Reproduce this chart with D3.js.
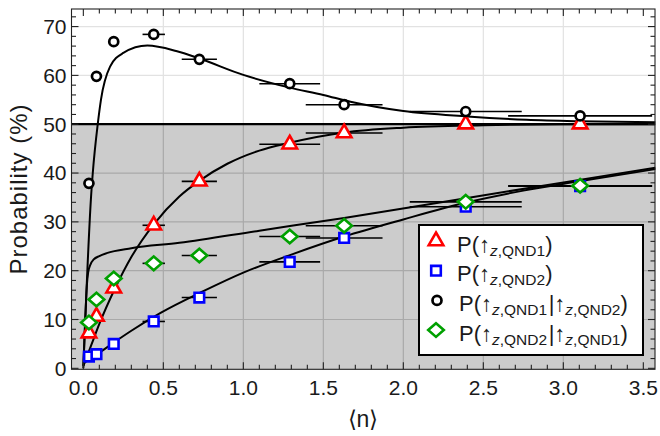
<!DOCTYPE html>
<meta charset="utf-8">
<style>
body { margin: 0; background: #fff; }
text { font-family: "Liberation Sans", Arial, sans-serif; fill: #1a1a1a; }
</style>
<body>
<script src="https://d3js.org/d3.v7.min.js"></script>
<script>

// measured points (same <n> for every series)
var nMean = [0.035, 0.082, 0.19, 0.44, 0.725, 1.29, 1.63, 2.39, 3.105];
var nErr  = [0, 0, 0, 0.07, 0.11, 0.19, 0.24, 0.35, 0.45];
var pQnd1       = [7.2, 10.6, 16.4, 29.3, 38.3, 45.9, 48.2, 50.0, 50.0];
var pQnd2       = [2.4, 2.9, 5.0, 9.6, 14.5, 21.8, 26.7, 33.1, 37.3];
var pQnd1Given2 = [37.9, 59.8, 66.9, 68.4, 63.3, 58.3, 54.0, 52.6, 51.7];
var pQnd2Given1 = [9.4, 14.1, 18.4, 21.5, 23.1, 27.0, 29.2, 34.1, 37.4];

// model curves as [n, P]
var fitQnd1 = [[0,0.5],[0.05,4.8],[0.1,9.1],[0.2,16.5],[0.3,22.8],[0.44,29.5],[0.6,35.2],[0.72,38.3],[0.9,41.9],[1.1,44.6],[1.29,46.2],[1.63,48.3],[2,49.3],[2.5,49.8],[3,50],[3.575,50]];
var fitQnd2 = [[0,1.0],[0.1,3.2],[0.2,5.5],[0.3,7.7],[0.48,11.3],[0.75,15.8],[1.0,19.6],[1.3,23.3],[1.63,27.0],[2.0,30.5],[2.4,34.0],[2.75,36.4],[3.1,38.3],[3.575,40.8]];
var fitQnd1Given2 = [[0,0],[0.01,8.5],[0.025,20],[0.047,34.5],[0.059,40],[0.09,50],[0.11,55],[0.167,61.8],[0.25,64.6],[0.4,66.1],[0.58,65.0],[0.73,63.4],[1.0,60.1],[1.29,57.5],[1.5,56],[1.67,54.6],[2.0,52.7],[2.4,51.6],[2.77,50.9],[3.1,50.6],[3.575,50.4]];
var fitQnd2Given1 = [[0,0.5],[0.012,10],[0.022,17],[0.03,19.6],[0.045,21.3],[0.065,22.3],[0.1,23.0],[0.146,23.6],[0.3,24.6],[0.6,25.7],[1.1,28.2],[1.63,30.8],[2.4,34.9],[3.1,38.6],[3.575,41.1]];

var xTicks = [0, 0.5, 1, 1.5, 2, 2.5, 3, 3.5];
var yTicks = [0, 10, 20, 30, 40, 50, 60, 70];

var width = 660, height = 436;
var pLeft = 71.5, pRight = 655, pTop = 9, pBottom = 369.3;

var svg = d3.select("body").append("svg")
    .attr("width", width)
    .attr("height", height);

var x = d3.scaleLinear().domain([-0.074, 3.573]).range([pLeft, pRight]);
var y = d3.scaleLinear().domain([-0.2, 73.6]).range([pBottom, pTop]);

// grey half below 50 %
svg.append("rect")
    .attr("x", pLeft).attr("y", y(50))
    .attr("width", pRight - pLeft).attr("height", pBottom - y(50))
    .attr("fill", "#cccccc");

// grid lines, lighter on white and darker on grey
var defs = svg.append("defs");
defs.append("clipPath").attr("id", "upper").append("rect")
    .attr("x", pLeft).attr("y", pTop).attr("width", pRight - pLeft).attr("height", y(50) - pTop);
defs.append("clipPath").attr("id", "lower").append("rect")
    .attr("x", pLeft).attr("y", y(50)).attr("width", pRight - pLeft).attr("height", pBottom - y(50));

[["upper", "#e2e2e2"], ["lower", "#a9a9a9"]].forEach(function(p) {
  var g = svg.append("g").attr("clip-path", "url(#" + p[0] + ")")
      .attr("stroke", p[1]).attr("stroke-width", 1.2);
  g.selectAll(".gx").data(xTicks.filter(function(d) { return d > 0 && d < 3.5; }))
    .enter().append("line")
      .attr("x1", function(d) { return x(d); }).attr("x2", function(d) { return x(d); })
      .attr("y1", pTop).attr("y2", pBottom);
  g.selectAll(".gy").data(yTicks.filter(function(d) { return d > 0; }))
    .enter().append("line")
      .attr("x1", pLeft).attr("x2", pRight)
      .attr("y1", function(d) { return y(d); }).attr("y2", function(d) { return y(d); });
});

svg.append("line")
    .attr("x1", pLeft).attr("x2", pRight)
    .attr("y1", y(50)).attr("y2", y(50))
    .attr("stroke", "#000").attr("stroke-width", 2.2);

// model curves
var line = d3.line()
    .x(function(d) { return x(d[0]); })
    .y(function(d) { return y(d[1]); })
    .curve(d3.curveMonotoneX);

var plot = svg.append("g");
[fitQnd1, fitQnd2, fitQnd1Given2, fitQnd2Given1].forEach(function(f) {
  plot.append("path")
      .attr("d", line(f))
      .attr("fill", "none")
      .attr("stroke", "#000")
      .attr("stroke-width", 2);
});

// series
var triangle = "M0,-8.5L7.3,4.2L-7.3,4.2Z";
var square = "M-4.8,-4.8H4.8V4.8H-4.8Z";
var diamond = "M0,-6.8L7.8,0L0,6.8L-7.8,0Z";
var series = [
  { values: pQnd1, color: "#ff0000", shape: triangle },
  { values: pQnd2, color: "#0000ff", shape: square },
  { values: pQnd1Given2, color: "#000000", shape: null },
  { values: pQnd2Given1, color: "#00a000", shape: diamond }
];

series.forEach(function(s) {
  var pts = s.values.map(function(v, i) { return { n: nMean[i], e: nErr[i], p: v }; });
  plot.append("g").selectAll("line")
    .data(pts.filter(function(d) { return d.e > 0; }))
    .enter().append("line")
      .attr("x1", function(d) { return x(d.n - d.e); })
      .attr("x2", function(d) { return Math.min(x(d.n + d.e), pRight); })
      .attr("y1", function(d) { return y(d.p); })
      .attr("y2", function(d) { return y(d.p); })
      .attr("stroke", "#000").attr("stroke-width", 1.6);
});

series.forEach(function(s) {
  var pts = s.values.map(function(v, i) { return { n: nMean[i], p: v }; });
  var g = plot.append("g");
  if (s.shape) {
    g.selectAll("path").data(pts).enter().append("path")
      .attr("d", s.shape)
      .attr("transform", function(d) { return "translate(" + x(d.n) + "," + y(d.p) + ")"; })
      .attr("fill", "#fff").attr("stroke", s.color).attr("stroke-width", 2.6)
      .attr("stroke-linejoin", "miter");
  } else {
    g.selectAll("circle").data(pts).enter().append("circle")
      .attr("cx", function(d) { return x(d.n); })
      .attr("cy", function(d) { return y(d.p); })
      .attr("r", 4.5)
      .attr("fill", "#fff").attr("stroke", s.color).attr("stroke-width", 2.7);
  }
});

// frame and ticks
svg.append("rect")
    .attr("x", pLeft).attr("y", pTop)
    .attr("width", pRight - pLeft).attr("height", pBottom - pTop)
    .attr("fill", "none").attr("stroke", "#222").attr("stroke-width", 1.1);

var xMinor = d3.range(0, 36).map(function(i) { return i / 10; });
var yMinor = d3.range(0, 37).map(function(i) { return i * 2; });
var ticks = svg.append("g").attr("stroke", "#222").attr("stroke-width", 1.1);
xMinor.forEach(function(v) {
  var len = (Math.round(v * 10) % 5 === 0) ? 7 : 4.5;
  ticks.append("line").attr("x1", x(v)).attr("x2", x(v)).attr("y1", pBottom).attr("y2", pBottom - len);
  ticks.append("line").attr("x1", x(v)).attr("x2", x(v)).attr("y1", pTop).attr("y2", pTop + len);
});
yMinor.forEach(function(v) {
  var len = (v % 10 === 0) ? 7 : 4.5;
  ticks.append("line").attr("y1", y(v)).attr("y2", y(v)).attr("x1", pLeft).attr("x2", pLeft + len);
  ticks.append("line").attr("y1", y(v)).attr("y2", y(v)).attr("x1", pRight).attr("x2", pRight - len);
});

svg.append("g").selectAll("text").data(xTicks).enter().append("text")
    .attr("x", function(d) { return x(d); })
    .attr("y", 394.5)
    .attr("text-anchor", "middle")
    .attr("font-size", 21)
    .text(function(d) { return d3.format(".1f")(d); });

svg.append("g").selectAll("text").data(yTicks).enter().append("text")
    .attr("x", 66.5)
    .attr("y", function(d) { return y(d) + 7.3; })
    .attr("text-anchor", "end")
    .attr("font-size", 21)
    .text(function(d) { return d; });

svg.append("text")
    .attr("x", 363).attr("y", 427)
    .attr("text-anchor", "middle")
    .attr("font-size", 23)
    .text("\u27E8n\u27E9");

svg.append("text")
    .attr("transform", "translate(27,189) rotate(-90)")
    .attr("text-anchor", "middle")
    .attr("font-size", 24)
    .attr("letter-spacing", 1)
    .text("Probability (%)");

// legend
var legendRows = [
  { shape: triangle, color: "#ff0000", a: "QND1", b: null },
  { shape: square, color: "#0000ff", a: "QND2", b: null },
  { shape: null, color: "#000000", a: "QND1", b: "QND2" },
  { shape: diamond, color: "#00a000", a: "QND2", b: "QND1" }
];
var lg = svg.append("g");
lg.append("rect")
    .attr("x", 419).attr("y", 225).attr("width", 224).attr("height", 130)
    .attr("fill", "#fff").attr("stroke", "#000").attr("stroke-width", 2);

legendRows.forEach(function(r, i) {
  var cy = 241 + i * 29.7;
  if (r.shape) {
    lg.append("path").attr("d", r.shape)
      .attr("transform", "translate(436," + cy + ")")
      .attr("fill", "#fff").attr("stroke", r.color).attr("stroke-width", 2.6);
  } else {
    lg.append("circle").attr("cx", 437).attr("cy", cy).attr("r", 4.5)
      .attr("fill", "#fff").attr("stroke", r.color).attr("stroke-width", 2.7);
  }
  var t = lg.append("text").attr("x", r.b ? 459 : 457).attr("y", cy + 10.5).attr("font-size", 22);
  t.append("tspan").text("P(\u2191");
  t.append("tspan").attr("dy", 4).attr("font-size", 15.5).attr("font-style", "italic").text("z");
  t.append("tspan").attr("font-size", 15.5).text("," + r.a);
  if (r.b) {
    t.append("tspan").attr("dy", -4).attr("dx", 1.5).text("|\u2191");
    t.append("tspan").attr("dy", 4).attr("font-size", 15.5).attr("font-style", "italic").text("z");
    t.append("tspan").attr("font-size", 15.5).text("," + r.b);
  }
  t.append("tspan").attr("dy", -4).text(")");
});

</script>
</body>
